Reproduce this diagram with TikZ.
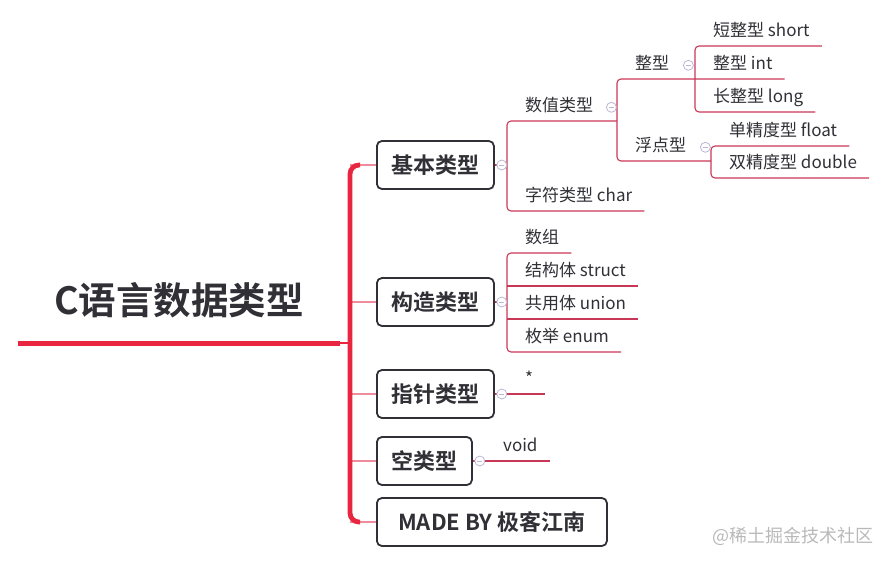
\documentclass[tikz,border=0pt]{standalone}
\usepackage{fontspec}
\usetikzlibrary{positioning,calc}
\newfontfamily\cjk{Noto Sans CJK SC}[BoldFont={Noto Sans CJK SC Bold}]
\definecolor{trunkred}{HTML}{E8263F}
\definecolor{branchpink}{HTML}{EE8C9C}
\definecolor{twigred}{HTML}{C93756}
\definecolor{inkgray}{HTML}{303036}
\definecolor{knobgray}{HTML}{B9B9D6}
\tikzset{
  rootnode/.style={
    font=\cjk\bfseries\fontsize{37.5}{37.5}\selectfont,
    text=inkgray,
    minimum width=322,
    inner sep=0
  },
  topic/.style={
    draw=inkgray,
    line width=1.8,
    rounded corners=5,
    fill=white,
    minimum height=48,
    inner xsep=14.5,
    font=\cjk\bfseries\fontsize{22}{22}\selectfont,
    text=inkgray,
    anchor=west
  },
  leaf/.style={
    font=\cjk\fontsize{17}{17}\selectfont,
    text=inkgray,
    text height=13,
    text depth=4,
    inner xsep=12,
    inner ysep=5,
    anchor=south west
  },
  stem/.style={draw=trunkred, line width=5},
  trunk/.style={draw=trunkred, line width=4.8, rounded corners=9},
  branch/.style={draw=branchpink, line width=2},
  twig/.style={draw=twigred, line width=1.1, rounded corners=4},
  knob/.style={
    circle,
    draw=knobgray,
    fill=white,
    line width=0.8,
    minimum size=10,
    inner sep=0,
    path picture={\draw[knobgray, line width=0.8]
      ([xshift=-2.5]path picture bounding box.center) --
      ([xshift=2.5]path picture bounding box.center);}
  }
}

\begin{document}
\begin{tikzpicture}[x=1pt, y=-1pt]
\useasboundingbox (0,0) rectangle (889,563);

% root and trunk
\coordinate (tj) at (350,343);
\node[rootnode] (root) at (179,300) {C语言数据类型};

\node[topic] (basic) at (376,165) {基本类型};
\node[topic] (struct) at (376,302) {构造类型};
\node[topic] (pointer) at (376,394) {指针类型};
\node[topic] (void) at (376,461) {空类型};
\node[topic, minimum width=230] (made) at (376,522) {MADE BY 极客江南};

\foreach \t in {basic,struct,pointer,void,made}
  \draw[branch] (tj |- \t.west) -- (\t.west);
\draw[trunk] ($(tj |- basic.west)+(10,0)$) -- (tj |- basic.west)
  -- (tj |- made.west) -- ($(tj |- made.west)+(10,0)$);
\draw[stem] (root.west |- tj) -- (root.east |- tj);
\draw[draw=trunkred, line width=1.5] (root.east |- tj) -- (tj);

% brackets
\coordinate (kb) at (507,0);
\coordinate (kn) at (617,0);
\coordinate (ki) at (695,0);
\coordinate (kf) at (711,0);
\coordinate (kg) at (507,0);

% basic types
\node[leaf] (num) at (513,121) {数值类型};
\node[leaf] (chr) at (513,211) {字符类型 char};
\node[leaf] (intg) at (623,79) {整型};
\node[leaf] (flt) at (623,161) {浮点型};
\node[leaf] (shortT) at (701,46) {短整型 short};
\node[leaf] (intT) at (701,79) {整型 int};
\node[leaf] (longT) at (701,112) {长整型 long};
\node[leaf] (floatT) at (717,146) {单精度型 float};
\node[leaf] (doubleT) at (717,178) {双精度型 double};

\draw[twig] (basic.east) -- (kb |- basic.east);
\draw[twig] (kn |- num.south) -- (kb |- num.south) -- (kb |- chr.south) -- (chr.south east);
\draw[twig] (intT.south east) -- (kn |- intT.south) -- (kn |- flt.south) -- (kf |- flt.south);
\draw[twig] (shortT.south east) -- (ki |- shortT.south) -- (ki |- longT.south) -- (longT.south east);
\draw[twig] (floatT.south east) -- (kf |- floatT.south) -- (kf |- doubleT.south) -- (doubleT.south east);

% derived types
\node[leaf] (arr) at (513,253) {数组};
\node[leaf] (strc) at (513,286) {结构体 struct};
\node[leaf] (uni) at (513,319) {共用体 union};
\node[leaf] (enm) at (513,352) {枚举 enum};

\draw[twig] (struct.east) -- (kg |- struct.east);
\draw[twig] (arr.south east) -- (kg |- arr.south) -- (kg |- enm.south) -- (enm.south east);
\draw[twig] (kg |- strc.south) -- (strc.south east);
\draw[twig] (kg |- uni.south) -- (uni.south east);

% pointer and void
\node[leaf] (ptr) at (513,394) {*};
\node[leaf] (voidT) at (491,461) {void};
\draw[twig] (pointer.east) -- (ptr.south east);
\draw[twig] (void.east) -- (voidT.south east);

% collapse knobs
\node[knob] (kbasic) at ([xshift=7]basic.east) {};
\node[knob] (kstruct) at ([xshift=7]struct.east) {};
\node[knob] (kpointer) at ([xshift=7]pointer.east) {};
\node[knob] (kvoid) at ([xshift=7]void.east) {};
\node[knob] (knum) at ([xshift=6]num.east) {};
\node[knob] (kintg) at ([xshift=7]intg.east) {};
\node[knob] (kflt) at ([xshift=7]flt.east) {};

% watermark
\node[font=\cjk\fontsize{18}{18}\selectfont, text=gray!55, anchor=west, inner sep=0] (mark) at (712,536) {@稀土掘金技术社区};
\end{tikzpicture}
\end{document}
